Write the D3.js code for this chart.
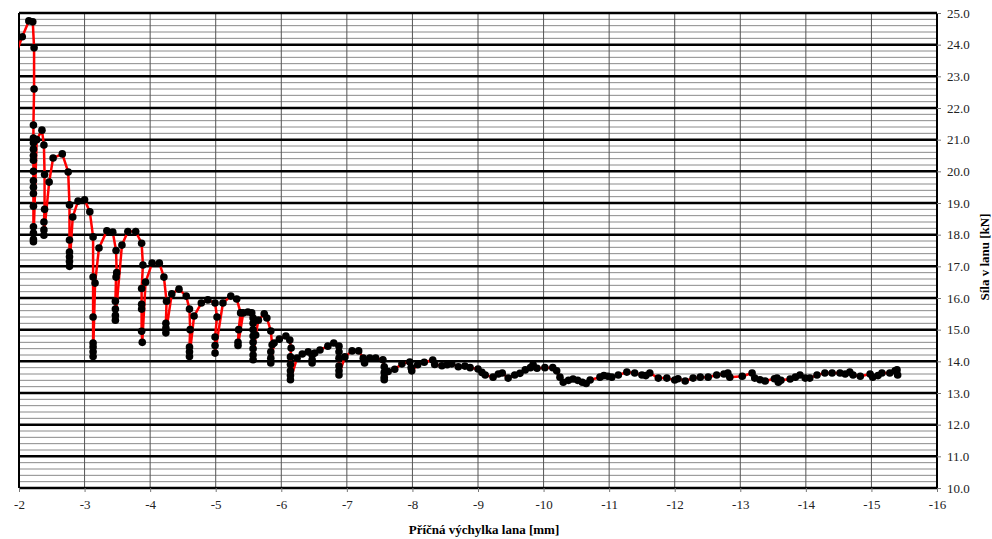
<!DOCTYPE html>
<html lang="cs">
<head>
<meta charset="UTF-8">
<title>Síla v lanu</title>
<script src="https://d3js.org/d3.v7.min.js"></script>
<style>
  body { margin: 0; background: #fff; }
  svg { display: block; }
  .tick text { font-family: "Liberation Serif", "DejaVu Serif", serif; font-size: 13px; fill: #222; }
</style>
</head>
<body>
<svg id="chart" width="992" height="539"></svg>
<script>
// displacement [mm] and force [kN], in measured order
const vychylka = [
  -1.95, -2.05, -2.15, -2.21, -2.23, -2.23, -2.22, -2.22, -2.22, -2.22, -2.22, -2.22, -2.22, -2.22, -2.22, -2.22, -2.22, -2.22, -2.22, -2.22, -2.22,
  -2.27, -2.35, -2.38, -2.39, -2.39, -2.38, -2.38, -2.38,
  -2.46, -2.52, -2.66, -2.75, -2.77, -2.77, -2.77, -2.77, -2.77, -2.77,
  -2.82, -2.90, -3.00, -3.08, -3.13, -3.13, -3.13, -3.13, -3.13, -3.13, -3.13,
  -3.16, -3.22, -3.34, -3.43, -3.48, -3.49, -3.48, -3.47, -3.47, -3.47, -3.47,
  -3.57, -3.66, -3.78, -3.87, -3.89, -3.87, -3.87, -3.87, -3.87, -3.88,
  -3.93, -4.03, -4.14, -4.21, -4.25, -4.24, -4.24, -4.24,
  -4.33, -4.44, -4.55, -4.60, -4.61, -4.60, -4.60, -4.60,
  -4.67, -4.78, -4.88, -4.99, -5.02, -4.99, -4.99, -4.99,
  -5.11, -5.23, -5.32, -5.38, -5.35, -5.34, -5.34,
  -5.42, -5.49, -5.55, -5.57, -5.57, -5.57, -5.57, -5.57, -5.57, -5.57, -5.57,
  -5.61, -5.65, -5.74, -5.78, -5.84, -5.86, -5.84, -5.84, -5.84,
  -5.89, -5.97, -6.07, -6.13, -6.15, -6.14, -6.14, -6.14, -6.14, -6.14,
  -6.24, -6.32, -6.41, -6.47, -6.47, -6.47,
  -6.51, -6.59, -6.71, -6.80, -6.88, -6.88, -6.88, -6.88, -6.88, -6.88,
  -6.97, -7.08, -7.18, -7.25, -7.27, -7.35, -7.44, -7.55, -7.57, -7.57, -7.57, -7.57,
  -7.63, -7.73, -7.84, -7.96, -7.98, -7.99, -8.08, -8.18, -8.31, -8.34, -8.45, -8.53, -8.60, -8.70, -8.80, -8.88,
  -9.00, -9.06, -9.11, -9.23, -9.31, -9.37, -9.46, -9.56, -9.64, -9.72, -9.80, -9.84, -9.90,
  -10.02, -10.14, -10.20, -10.25, -10.30, -10.38, -10.45, -10.52, -10.59, -10.65, -10.71, -10.86, -10.92, -10.98,
  -11.04, -11.14, -11.27, -11.39, -11.50, -11.56, -11.62, -11.75, -11.88,
  -12.00, -12.05, -12.16, -12.28, -12.39, -12.51, -12.64, -12.75, -12.81, -12.84,
  -13.03, -13.18, -13.22, -13.30, -13.38, -13.52, -13.56, -13.58, -13.62, -13.76, -13.84, -13.91, -13.99,
  -14.06, -14.17, -14.29, -14.40, -14.52, -14.60, -14.67, -14.72, -14.83, -14.98,
  -15.02, -15.10, -15.16, -15.28, -15.36, -15.39, -15.40
];
const sila = [
  23.70, 24.25, 24.75, 24.72, 23.90, 22.60, 21.46, 21.05, 20.90, 20.70, 20.50, 20.35, 20.00, 19.70, 19.50, 19.30, 18.90, 18.25, 18.05, 17.85, 17.78,
  21.00, 21.30, 20.83, 19.90, 18.80, 18.40, 18.15, 17.98,
  19.66, 20.42, 20.55, 19.98, 18.94, 17.83, 17.45, 17.30, 17.15, 17.00,
  18.56, 19.06, 19.10, 18.72, 17.93, 16.66, 15.40, 14.58, 14.45, 14.30, 14.15,
  16.47, 17.58, 18.12, 18.08, 17.50, 16.80, 16.66, 15.90, 15.65, 15.45, 15.30,
  17.67, 18.10, 18.10, 17.73, 17.04, 16.30, 15.80, 15.65, 14.95, 14.60,
  16.50, 17.10, 17.10, 16.66, 15.90, 15.20, 15.05, 14.90,
  16.13, 16.28, 16.06, 15.65, 15.00, 14.45, 14.30, 14.15,
  15.43, 15.84, 15.94, 15.84, 15.40, 14.77, 14.50, 14.26,
  15.84, 16.06, 15.97, 15.53, 15.00, 14.60, 14.50,
  15.53, 15.56, 15.53, 15.37, 15.20, 15.00, 14.80, 14.60, 14.40, 14.20, 14.05,
  14.83, 15.30, 15.50, 15.37, 14.96, 14.52, 14.30, 14.10, 13.95,
  14.58, 14.70, 14.80, 14.67, 14.42, 14.14, 13.90, 13.70, 13.55, 13.42,
  14.10, 14.23, 14.30, 14.20, 14.05, 13.95,
  14.26, 14.36, 14.48, 14.58, 14.48, 14.30, 14.10, 13.85, 13.70, 13.57,
  14.14, 14.33, 14.33, 14.10, 13.95, 14.10, 14.10, 14.05, 13.83, 13.65, 13.50, 13.42,
  13.68, 13.75, 13.92, 13.98, 13.80, 13.70, 13.89, 13.97, 14.04, 13.90, 13.86, 13.89, 13.92, 13.83, 13.85, 13.80,
  13.76, 13.65, 13.57, 13.50, 13.60, 13.63, 13.47, 13.57, 13.62, 13.73, 13.80, 13.90, 13.78,
  13.80, 13.80, 13.70, 13.50, 13.34, 13.40, 13.44, 13.40, 13.34, 13.30, 13.41, 13.50, 13.55, 13.53,
  13.50, 13.57, 13.66, 13.63, 13.57, 13.55, 13.63, 13.47, 13.47,
  13.41, 13.45, 13.38, 13.47, 13.50, 13.50, 13.57, 13.60, 13.63, 13.50,
  13.53, 13.63, 13.47, 13.42, 13.38, 13.45, 13.47, 13.34, 13.40, 13.44, 13.50, 13.57, 13.47,
  13.47, 13.57, 13.63, 13.63, 13.63, 13.60, 13.66, 13.57, 13.53, 13.60,
  13.50, 13.55, 13.63, 13.63, 13.70, 13.73, 13.57
];
const xTicks = d3.range(-2, -17, -1);
const yMajor = d3.range(10, 26, 1);
const yMinor = d3.range(10, 25.001, 0.2).filter(v => Math.abs(v - Math.round(v)) > 0.01);

const data = vychylka.map((x, i) => ({ x: x, y: sila[i] }));

const svg = d3.select('#chart');
const plot = { left: 19, right: 937, top: 13, bottom: 488 };

const x = d3.scaleLinear().domain([-2, -16]).range([plot.left, plot.right]);
const y = d3.scaleLinear().domain([10, 25]).range([plot.bottom, plot.top]);

svg.append('defs').append('clipPath').attr('id', 'clip')
  .append('rect')
  .attr('x', plot.left).attr('y', plot.top - 5)
  .attr('width', plot.right - plot.left).attr('height', plot.bottom - plot.top + 10);

// minor horizontal grid
svg.append('g').selectAll('line').data(yMinor).join('line')
  .attr('x1', plot.left).attr('x2', plot.right)
  .attr('y1', d => y(d)).attr('y2', d => y(d))
  .attr('stroke', '#8a8a8a').attr('stroke-width', 1);

// vertical grid
svg.append('g').selectAll('line').data(xTicks).join('line')
  .attr('x1', d => x(d)).attr('x2', d => x(d))
  .attr('y1', plot.top).attr('y2', plot.bottom)
  .attr('stroke', '#555').attr('stroke-width', 1);

// major horizontal grid
svg.append('g').selectAll('line').data(yMajor).join('line')
  .attr('x1', plot.left).attr('x2', plot.right)
  .attr('y1', d => y(d)).attr('y2', d => y(d))
  .attr('stroke', '#000').attr('stroke-width', 2.5);

// plot border left / right
svg.append('line').attr('x1', plot.left).attr('x2', plot.left)
  .attr('y1', plot.top).attr('y2', plot.bottom)
  .attr('stroke', '#000').attr('stroke-width', 2);
svg.append('line').attr('x1', plot.right).attr('x2', plot.right)
  .attr('y1', plot.top).attr('y2', plot.bottom)
  .attr('stroke', '#000').attr('stroke-width', 2);

// axes
const yAxis = svg.append('g')
  .attr('transform', `translate(${plot.right},0)`)
  .call(d3.axisRight(y).tickValues(yMajor).tickFormat(d3.format('.1f')).tickSize(4).tickPadding(6));
yAxis.select('.domain').remove();
yAxis.selectAll('.tick line').attr('stroke', '#777');

const xAxis = svg.append('g')
  .attr('transform', `translate(0,${plot.bottom})`)
  .call(d3.axisBottom(x).tickValues(xTicks).tickFormat(d => String(d)).tickSize(4).tickPadding(8));
xAxis.select('.domain').remove();
xAxis.selectAll('.tick line').attr('stroke', '#777');

// series
const series = svg.append('g').attr('clip-path', 'url(#clip)');
series.append('path')
  .datum(data)
  .attr('fill', 'none')
  .attr('stroke', '#ff0000')
  .attr('stroke-width', 2.5)
  .attr('stroke-linejoin', 'round')
  .attr('d', d3.line().x(d => x(d.x)).y(d => y(d.y)));

series.selectAll('circle').data(data).join('circle')
  .attr('cx', d => x(d.x)).attr('cy', d => y(d.y))
  .attr('r', 3.8)
  .attr('fill', '#000');

// axis titles
svg.append('text')
  .attr('x', 484).attr('y', 534)
  .attr('text-anchor', 'middle')
  .style('font-family', '"Liberation Serif", serif')
  .style('font-size', '13px').style('font-weight', 'bold')
  .text('Příčná výchylka lana [mm]');

svg.append('text')
  .attr('transform', 'translate(989,257) rotate(-90)')
  .attr('text-anchor', 'middle')
  .style('font-family', '"Liberation Serif", serif')
  .style('font-size', '13px').style('font-weight', 'bold')
  .text('Síla v lanu [kN]');
</script>
</body>
</html>
